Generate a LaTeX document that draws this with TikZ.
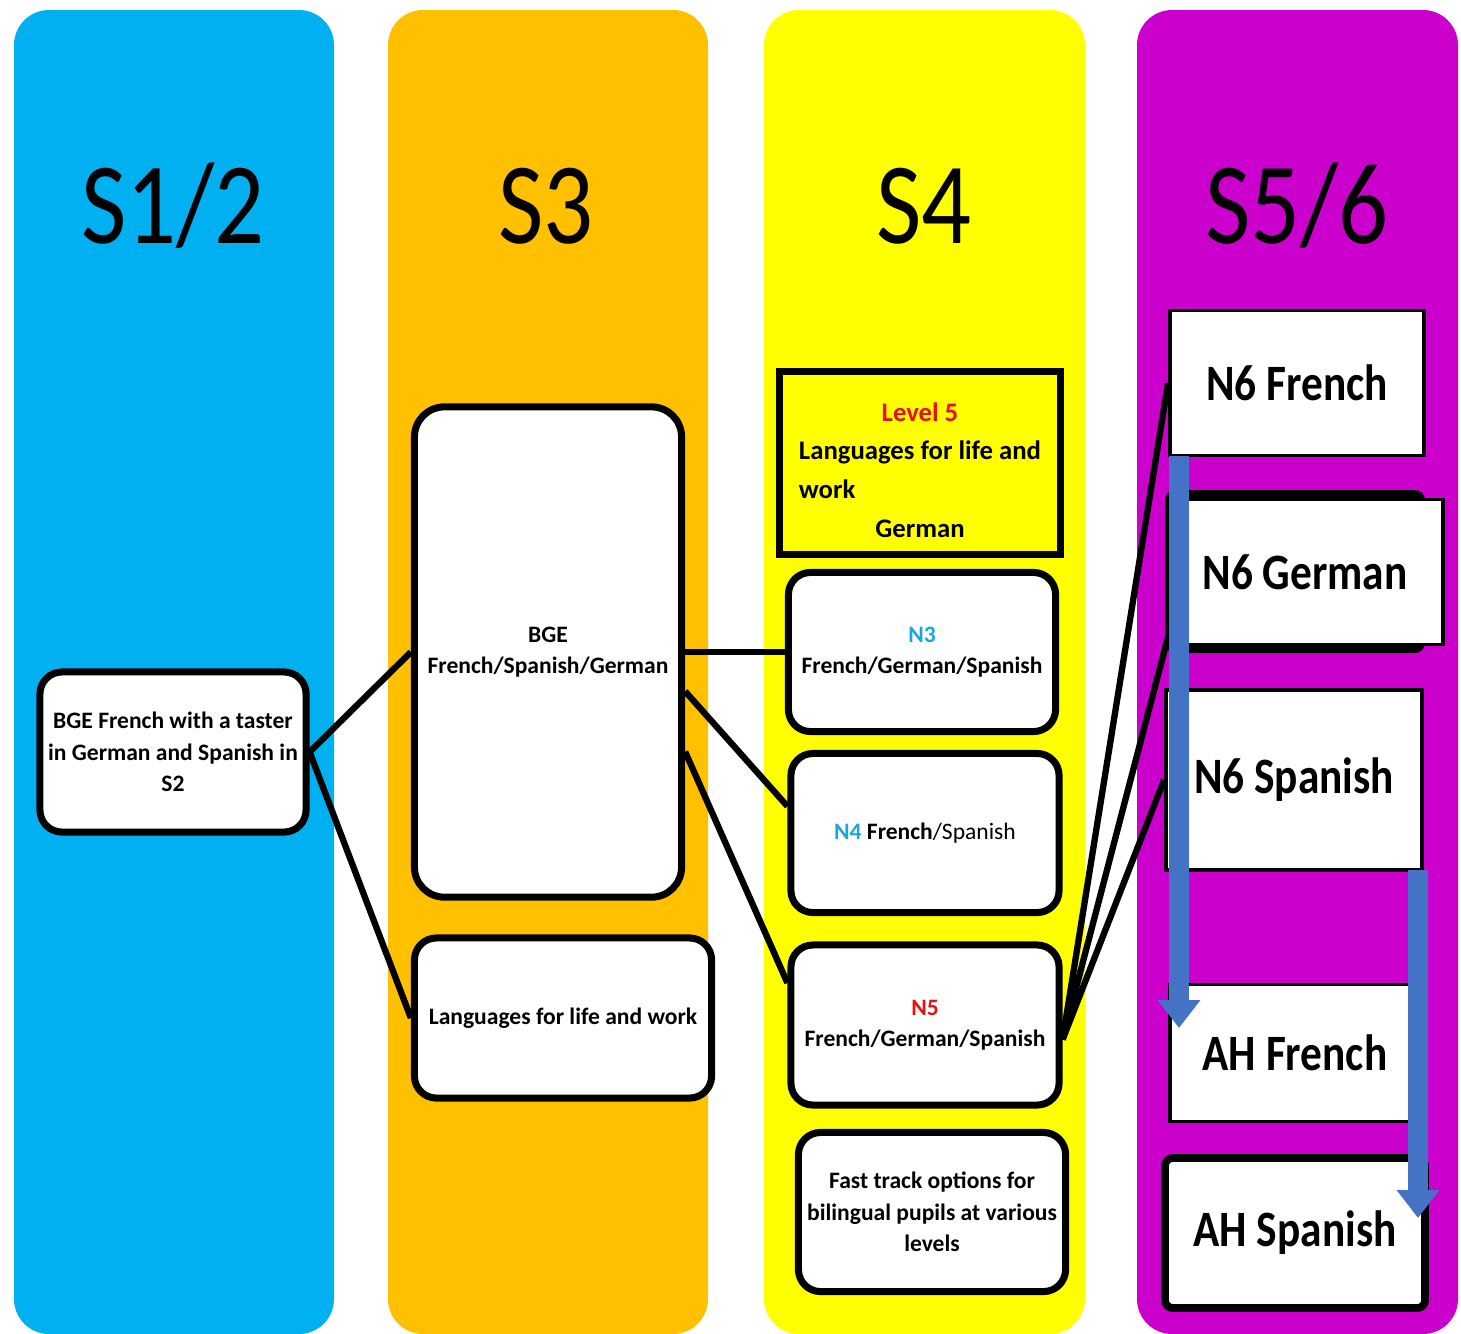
\documentclass[tikz,border=0pt]{standalone}
\usepackage{fontspec}
\setmainfont{Carlito}
\newfontfamily\bigfont[FakeStretch=0.85]{Carlito}
\usetikzlibrary{arrows.meta}

\definecolor{colblue}{HTML}{00B0F0}
\definecolor{colorange}{HTML}{FFC000}
\definecolor{colyellow}{HTML}{FFFF00}
\definecolor{colpurple}{HTML}{CC00CC}
\definecolor{lvred}{HTML}{E81010}
\definecolor{nblue}{HTML}{1AA7E0}
\definecolor{arrblue}{HTML}{4472C4}

\tikzset{
  rbox/.style={draw, line width=2pt, fill=white, rounded corners=0.22cm, align=center,
    inner sep=1pt, font=\fontsize{6.7}{8.9}\selectfont\bfseries},
  sqbox/.style={draw, line width=1.1pt, fill=white, inner sep=1pt,
    font=\bigfont\fontsize{14.5}{16}\selectfont\bfseries},
  head/.style={anchor=base, font=\bigfont\fontsize{33}{36}\selectfont},
  link/.style={line width=1.8pt},
  downgo/.style={arrblue, line width=0.2cm, -{Triangle[width=0.41cm,length=0.28cm]}}
}

\begin{document}
\begin{tikzpicture}[x=0.01cm, y=-0.01cm]
\clip (0,0) rectangle (1461,1333);
\fill[white] (0,0) rectangle (1461,1333);
% columns
\fill[colblue, rounded corners=0.35cm] (14,10) rectangle (334,1334);
\fill[colorange, rounded corners=0.35cm] (388,10) rectangle (708,1334);
\fill[colyellow, rounded corners=0.35cm] (764,10) rectangle (1085,1334);
\fill[colpurple, rounded corners=0.35cm] (1137,10) rectangle (1458,1334);
%
\node[head] (h12) at (173,243) {S1/2};
\node[head] (h3) at (546,243) {S3};
\node[head] (h4) at (924,243) {S4};
\node[head] (h56) at (1297,243) {S5/6};
%
\node[rbox, minimum width=2.66cm, minimum height=1.60cm] (s12) at (173,752)
  {BGE French with a taster\\in German and Spanish in\\S2};
\node[rbox, minimum width=2.67cm, minimum height=4.90cm, rounded corners=0.3cm] (bge) at (548,652)
  {BGE\\French/Spanish/German};
\node[rbox, minimum width=2.97cm, minimum height=1.60cm] (lfw) at (563,1018)
  {Languages for life and work};
%
\node[draw, line width=2pt, fill=colyellow, minimum width=2.81cm, minimum height=1.82cm] (lvl5) at (920,463) {};
\node[align=center, font=\fontsize{7.6}{11}\selectfont\bfseries] (lvl5txt) at (920,470)
  {\textcolor{lvred}{Level 5}\\Languages for life and\\\rlap{work}\phantom{Languages for life and}\\German};
\node[rbox, minimum width=2.67cm, minimum height=1.59cm] (n3) at (922,652)
  {\textcolor{nblue}{N3}\\French/German/Spanish};
\node[rbox, minimum width=2.68cm, minimum height=1.59cm] (n4) at (925,833)
  {\textcolor{nblue}{N4} French{\mdseries/Spanish}};
\node[rbox, minimum width=2.68cm, minimum height=1.60cm] (n5) at (925,1025)
  {\textcolor{lvred}{N5}\\French/German/Spanish};
\node[rbox, minimum width=2.67cm, minimum height=1.59cm] (fast) at (932,1212)
  {Fast track options for\\bilingual pupils at various\\levels};
%
\node[sqbox, minimum width=2.54cm, minimum height=1.45cm] (n6fr) at (1297,383) {N6 French};
\fill[black, rounded corners=0.1cm] (1165,490) rectangle (1425,653);
\node[sqbox, minimum width=2.56cm, minimum height=1.45cm] (n6ger) at (1315,572) {\hspace*{-0.2cm}N6 German};
\node[sqbox, minimum width=2.56cm, minimum height=1.80cm] (n6spa) at (1294,780) {N6 Spanish};
\node[sqbox, minimum width=2.50cm, minimum height=1.37cm] (ahfr) at (1295,1053) {AH French};
\node[sqbox, line width=2.2pt, rounded corners=0.08cm, minimum width=2.60cm, minimum height=1.50cm] (ahspa) at (1295,1233) {AH Spanish};
%
\draw[link] (s12.east) -- (bge.west);
\draw[link] (s12.east) -- (lfw.west);
\draw[link] (bge.east) -- (n3.west);
\draw[link] (bge.-16) -- (n4.169);
\draw[link] (bge.-36) -- (n5.163);
\draw[link] (n5.-6) -- (n6fr.west);
\draw[link] (n5.-6) -- (n6ger.west);
\draw[link] (n5.-6) -- (n6spa.west);
%
\coordinate (a1s) at (1179,456);
\coordinate (a1e) at (1179,1028);
\coordinate (a2s) at (1418,870);
\coordinate (a2e) at (1418,1218);
\draw[downgo] (a1s) -- (a1e);
\draw[downgo] (a2s) -- (a2e);
\end{tikzpicture}
\end{document}
